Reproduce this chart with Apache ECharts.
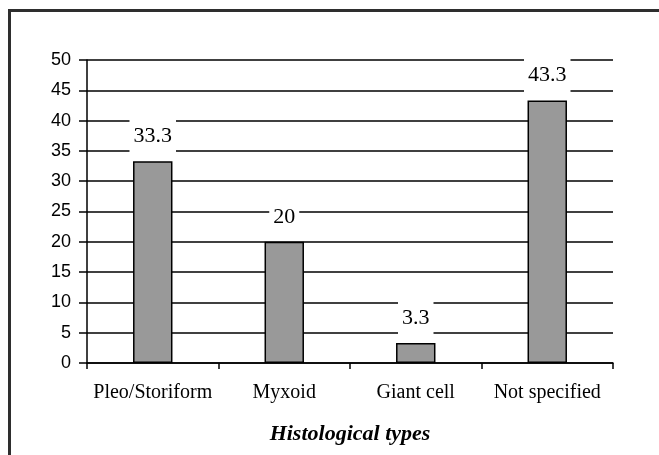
<!DOCTYPE html>
<html>
<head>
<meta charset="utf-8">
<script src="https://cdn.jsdelivr.net/npm/echarts@6/dist/echarts.min.js"></script>
<style>
  html, body { margin: 0; padding: 0; background: #fff; }
  #chart { width: 659px; height: 455px; }
</style>
</head>
<body>
<div id="chart"></div>
<script>
// Histological type shares (%)
const categories = ['Pleo/Storiform', 'Myxoid', 'Giant cell', 'Not specified'];
const percentages = [33.3, 20, 3.3, 43.3];
const yTicks = { min: 0, max: 50, interval: 5 };
const axisTitle = 'Histological types';

const chart = echarts.init(document.getElementById('chart'));

chart.setOption({
  backgroundColor: '#ffffff',
  animation: false,
  graphic: [{
    type: 'rect',
    shape: { x: 9.5, y: 10.5, width: 800, height: 800 },
    style: { fill: 'none', stroke: '#2e2e2e', lineWidth: 3 },
    silent: true
  }],
  grid: { left: 87, right: 46, top: 60, bottom: 92 },
  xAxis: {
    type: 'category',
    data: categories,
    name: axisTitle,
    nameLocation: 'middle',
    nameGap: 60,
    nameTextStyle: {
      fontFamily: 'Liberation Serif',
      fontSize: 22,
      fontWeight: 'bold',
      fontStyle: 'italic',
      color: '#000'
    },
    axisLine: { show: true, lineStyle: { color: '#000', width: 1.5 } },
    axisTick: { show: true, length: 6, lineStyle: { color: '#000', width: 1.5 } },
    axisLabel: {
      interval: 0,
      margin: 20,
      fontFamily: 'Liberation Serif',
      fontSize: 20,
      color: '#000'
    }
  },
  yAxis: {
    type: 'value',
    min: yTicks.min,
    max: yTicks.max,
    interval: yTicks.interval,
    axisLine: { show: true, lineStyle: { color: '#000', width: 1.5 } },
    axisTick: { show: true, length: 8, lineStyle: { color: '#000', width: 1.5 } },
    axisLabel: {
      margin: 16,
      fontFamily: 'Liberation Sans',
      fontSize: 18,
      color: '#000'
    },
    splitLine: { show: true, lineStyle: { color: '#000', width: 1.5 } }
  },
  series: [{
    type: 'bar',
    data: percentages,
    barWidth: '30%',
    itemStyle: { color: '#999999', borderColor: '#000', borderWidth: 1.5 },
    label: {
      show: true,
      position: 'top',
      distance: 8,
      formatter: p => String(p.value),
      fontFamily: 'Liberation Serif',
      fontSize: 22,
      lineHeight: 22,
      color: '#000',
      backgroundColor: '#ffffff',
      padding: [6, 4]
    }
  }]
});
</script>
</body>
</html>
